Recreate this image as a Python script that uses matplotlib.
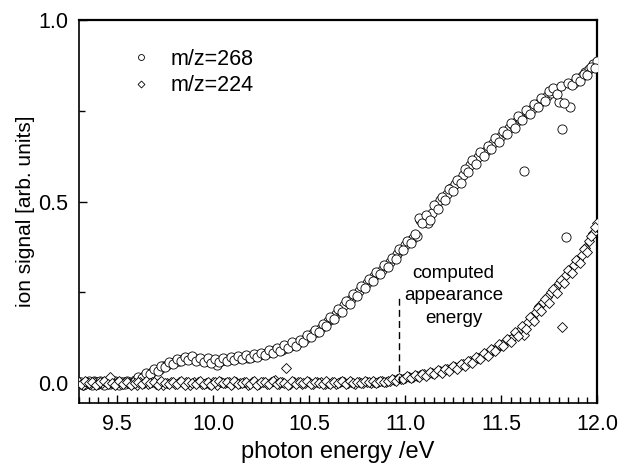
import matplotlib
matplotlib.use("Agg")
import matplotlib.pyplot as plt
from matplotlib.ticker import MultipleLocator, FormatStrFormatter

plt.rcParams['font.family'] = ['Liberation Sans', 'DejaVu Sans']

# photon energy grid, scan 1 (eV)
energy = [
    9.30, 9.32, 9.34, 9.36, 9.38, 9.40, 9.42, 9.44, 9.46, 9.48,
    9.50, 9.52, 9.54, 9.56, 9.58, 9.60, 9.62, 9.64, 9.66, 9.68,
    9.70, 9.72, 9.74, 9.76, 9.78, 9.80, 9.82, 9.84, 9.86, 9.88,
    9.90, 9.92, 9.94, 9.96, 9.98, 10.00, 10.02, 10.04, 10.06, 10.08,
    10.10, 10.12, 10.14, 10.16, 10.18, 10.20, 10.22, 10.24, 10.26, 10.28,
    10.30, 10.32, 10.34, 10.36, 10.38, 10.40, 10.42, 10.44, 10.46, 10.48,
    10.50, 10.52, 10.54, 10.56, 10.58, 10.60, 10.62, 10.64, 10.66, 10.68,
    10.70, 10.72, 10.74, 10.76, 10.78, 10.80, 10.82, 10.84, 10.86, 10.88,
    10.90, 10.92, 10.94, 10.96, 10.98, 11.00, 11.02, 11.04, 11.06, 11.08,
    11.10, 11.12, 11.14, 11.16, 11.18, 11.20, 11.22, 11.24, 11.26, 11.28,
    11.30, 11.32, 11.34, 11.36, 11.38, 11.40, 11.42, 11.44, 11.46, 11.48,
    11.50, 11.52, 11.54, 11.56, 11.58, 11.60, 11.62, 11.64, 11.66, 11.68,
    11.70, 11.72, 11.74, 11.76, 11.78, 11.80, 11.82, 11.84, 11.86, 11.88,
    11.90, 11.92, 11.94, 11.96, 11.98, 12.00,
]

# photon energy grid, scan 2 (eV)
energy2 = [
    9.31, 9.33, 9.35, 9.37, 9.39, 9.41, 9.43, 9.45, 9.47, 9.49,
    9.51, 9.53, 9.55, 9.57, 9.59, 9.61, 9.63, 9.65, 9.67, 9.69,
    9.71, 9.73, 9.75, 9.77, 9.79, 9.81, 9.83, 9.85, 9.87, 9.89,
    9.91, 9.93, 9.95, 9.97, 9.99, 10.01, 10.03, 10.05, 10.07, 10.09,
    10.11, 10.13, 10.15, 10.17, 10.19, 10.21, 10.23, 10.25, 10.27, 10.29,
    10.31, 10.33, 10.35, 10.37, 10.39, 10.41, 10.43, 10.45, 10.47, 10.49,
    10.51, 10.53, 10.55, 10.57, 10.59, 10.61, 10.63, 10.65, 10.67, 10.69,
    10.71, 10.73, 10.75, 10.77, 10.79, 10.81, 10.83, 10.85, 10.87, 10.89,
    10.91, 10.93, 10.95, 10.97, 10.99, 11.01, 11.03, 11.05, 11.07, 11.09,
    11.11, 11.13, 11.15, 11.17, 11.19, 11.21, 11.23, 11.25, 11.27, 11.29,
    11.31, 11.33, 11.35, 11.37, 11.39, 11.41, 11.43, 11.45, 11.47, 11.49,
    11.51, 11.53, 11.55, 11.57, 11.59, 11.61, 11.63, 11.65, 11.67, 11.69,
    11.71, 11.73, 11.75, 11.77, 11.79, 11.81, 11.83, 11.85, 11.87, 11.89,
    11.91, 11.93, 11.95, 11.97, 11.99,
]

# m/z = 268 ion signal, scan 1
signal_268 = [
    0.002, -0.004, 0.003, -0.002, 0.005, -0.003, 0.001, 0.004, -0.003, 0.002,
    -0.001, 0.003, -0.002, 0.004, 0.004, 0.010, 0.014, 0.019, 0.024, 0.030,
    0.036, 0.040, 0.046, 0.050, 0.055, 0.058, 0.062, 0.066, 0.068, 0.070,
    0.067, 0.066, 0.064, 0.062, 0.063, 0.060, 0.050, 0.062, 0.064, 0.066,
    0.067, 0.069, 0.070, 0.072, 0.068, 0.073, 0.076, 0.078, 0.079, 0.084,
    0.086, 0.090, 0.094, 0.092, 0.098, 0.103, 0.106, 0.110, 0.116, 0.122,
    0.130, 0.138, 0.142, 0.152, 0.160, 0.172, 0.178, 0.190, 0.200, 0.214,
    0.224, 0.232, 0.244, 0.254, 0.266, 0.276, 0.284, 0.294, 0.302, 0.312,
    0.322, 0.334, 0.346, 0.356, 0.368, 0.380, 0.392, 0.400, 0.405, 0.448,
    0.455, 0.440, 0.470, 0.492, 0.505, 0.512, 0.522, 0.538, 0.548, 0.560,
    0.574, 0.590, 0.602, 0.612, 0.622, 0.634, 0.640, 0.652, 0.662, 0.672,
    0.680, 0.690, 0.702, 0.712, 0.720, 0.728, 0.583, 0.745, 0.755, 0.765,
    0.772, 0.784, 0.790, 0.800, 0.806, 0.774, 0.700, 0.403, 0.760, 0.826,
    0.836, 0.846, 0.858, 0.866, 0.878, 0.886,
]

# m/z = 268 ion signal, scan 2
signal_268_2 = [
    0.004, -0.002, 0.006, -0.005, 0.002, 0.005, -0.004, 0.003, -0.001, 0.005,
    -0.004, 0.002, 0.006, -0.002, 0.009, 0.016, 0.013, 0.027, 0.024, 0.038,
    0.034, 0.048, 0.045, 0.057, 0.052, 0.066, 0.060, 0.072, 0.064, 0.074,
    0.062, 0.070, 0.058, 0.068, 0.056, 0.066, 0.058, 0.070, 0.060, 0.072,
    0.063, 0.075, 0.066, 0.077, 0.069, 0.080, 0.072, 0.084, 0.077, 0.090,
    0.082, 0.097, 0.088, 0.104, 0.096, 0.112, 0.102, 0.120, 0.112, 0.132,
    0.128, 0.145, 0.140, 0.162, 0.158, 0.182, 0.176, 0.203, 0.197, 0.226,
    0.219, 0.246, 0.240, 0.268, 0.262, 0.288, 0.280, 0.306, 0.300, 0.325,
    0.320, 0.346, 0.342, 0.370, 0.366, 0.392, 0.386, 0.412, 0.456, 0.440,
    0.462, 0.448, 0.490, 0.480, 0.512, 0.505, 0.536, 0.528, 0.560, 0.552,
    0.590, 0.582, 0.614, 0.604, 0.636, 0.626, 0.652, 0.645, 0.674, 0.664,
    0.694, 0.686, 0.716, 0.704, 0.736, 0.724, 0.752, 0.742, 0.770, 0.760,
    0.786, 0.778, 0.806, 0.812, 0.796, 0.818, 0.772, 0.826, 0.822, 0.840,
    0.832, 0.852, 0.848, 0.872, 0.868,
]

# m/z = 224 ion signal, scan 1
signal_224 = [
    0.003, -0.004, 0.002, -0.002, 0.004, -0.003, 0.001, 0.003, 0.016, -0.002,
    0.002, -0.003, 0.004, -0.001, 0.003, -0.004, 0.002, 0.000, -0.003, 0.004,
    -0.002, 0.003, -0.004, 0.001, 0.004, -0.003, 0.002, -0.001, 0.003, -0.004,
    0.002, 0.004, -0.003, 0.001, -0.002, 0.003, -0.004, 0.002, 0.000, 0.003,
    -0.003, 0.004, -0.001, 0.002, -0.004, 0.003, 0.001, -0.002, 0.004, -0.003,
    0.002, 0.008, -0.002, 0.003, 0.041, -0.003, 0.002, 0.004, -0.002, 0.001,
    0.003, -0.003, 0.002, 0.004, -0.002, 0.001, 0.003, -0.003, 0.002, 0.004,
    0.000, 0.003, -0.002, 0.004, 0.001, 0.003, -0.001, 0.004, 0.002, 0.005,
    0.004, 0.006, 0.008, 0.010, 0.012, 0.013, 0.016, 0.018, 0.020, 0.021,
    0.024, 0.026, 0.028, 0.031, 0.033, 0.036, 0.038, 0.042, 0.045, 0.048,
    0.052, 0.056, 0.060, 0.065, 0.070, 0.075, 0.080, 0.086, 0.092, 0.098,
    0.105, 0.112, 0.120, 0.128, 0.136, 0.145, 0.133, 0.168, 0.180, 0.196,
    0.212, 0.224, 0.238, 0.250, 0.262, 0.276, 0.155, 0.298, 0.310, 0.326,
    0.338, 0.354, 0.372, 0.392, 0.414, 0.440,
]

# m/z = 224 ion signal, scan 2
signal_224_2 = [
    -0.003, 0.005, -0.001, 0.004, -0.005, 0.002, 0.006, -0.002, 0.001, -0.004,
    0.005, -0.002, 0.003, -0.005, 0.001, 0.004, -0.003, 0.006, -0.001, 0.002,
    -0.004, 0.005, 0.001, -0.003, 0.004, -0.002, 0.006, -0.004, 0.002, 0.001,
    -0.003, 0.005, -0.002, 0.004, -0.005, 0.002, 0.005, -0.001, 0.003, -0.004,
    0.006, -0.002, 0.001, 0.004, -0.003, 0.005, -0.004, 0.002, 0.003, -0.002,
    0.005, -0.003, 0.004, 0.001, -0.004, 0.006, -0.002, 0.003, -0.001, 0.005,
    -0.003, 0.004, 0.001, -0.002, 0.006, -0.003, 0.004, 0.000, 0.005, -0.002,
    0.006, 0.001, 0.004, -0.001, 0.006, 0.002, 0.005, 0.000, 0.006, 0.003,
    0.007, 0.011, 0.006, 0.014, 0.010, 0.019, 0.013, 0.022, 0.017, 0.026,
    0.020, 0.030, 0.024, 0.035, 0.029, 0.040, 0.034, 0.047, 0.040, 0.054,
    0.047, 0.062, 0.056, 0.072, 0.066, 0.084, 0.076, 0.095, 0.088, 0.108,
    0.101, 0.122, 0.114, 0.140, 0.130, 0.158, 0.150, 0.182, 0.172, 0.206,
    0.198, 0.232, 0.222, 0.258, 0.248, 0.284, 0.276, 0.312, 0.302, 0.340,
    0.330, 0.370, 0.360, 0.404, 0.430,
]

series_labels = ["m/z=268", "m/z=224"]
x_ticks = [9.5, 10.0, 10.5, 11.0, 11.5, 12.0]
y_ticks = [0.0, 0.5, 1.0]
appearance_energy = 10.97
appearance_top = 0.235
annotation_text = "computed\nappearance\nenergy"

assert len(energy) == len(signal_268) == len(signal_224)
assert len(energy2) == len(signal_268_2) == len(signal_224_2)

fig = plt.figure(figsize=(6.2, 4.72), dpi=100)
ax = fig.add_axes([0.1274, 0.146, 0.8355, 0.8114])

ax.plot(energy + energy2, signal_268 + signal_268_2, linestyle='none',
        marker='o', markersize=6.6, markerfacecolor='white',
        markeredgecolor='black', markeredgewidth=0.6,
        label=series_labels[0], zorder=3)
ax.plot(energy + energy2, signal_224 + signal_224_2, linestyle='none',
        marker='D', markersize=5.4, markerfacecolor='white',
        markeredgecolor='black', markeredgewidth=0.6,
        label=series_labels[1], zorder=3)

ax.plot([appearance_energy, appearance_energy], [0.0, appearance_top],
        color='black', linestyle=(0, (5, 3)), linewidth=1.0, zorder=4)
ax.text(11.253, 0.24, annotation_text, ha='center', va='center',
        fontsize=13.5, linespacing=1.42)

ax.set_xlim(9.3, 12.0)
ax.set_ylim(-0.055, 1.0)
ax.set_xticks(x_ticks)
ax.set_yticks(y_ticks)
ax.xaxis.set_major_formatter(FormatStrFormatter('%.1f'))
ax.yaxis.set_major_formatter(FormatStrFormatter('%.1f'))
ax.xaxis.set_minor_locator(MultipleLocator(0.05))
ax.yaxis.set_minor_locator(MultipleLocator(0.25))
ax.tick_params(which='both', direction='in', top=False, right=False,
               labelsize=15.5, pad=8)
ax.tick_params(which='major', length=6, width=1.0)
ax.tick_params(which='minor', length=4, width=1.0)

for side in ['left', 'bottom']:
    ax.spines[side].set_linewidth(1.2)
for side in ['top', 'right']:
    ax.spines[side].set_linewidth(1.6)

ax.set_xlabel("photon energy /eV", fontsize=17, labelpad=4)
ax.set_ylabel("ion signal [arb. units]", fontsize=15, labelpad=2)

leg = ax.legend(loc='upper left', bbox_to_anchor=(0.0994, 0.925),
                frameon=False, fontsize=15.5, handlelength=1.0,
                handletextpad=0.85, labelspacing=0.26, borderpad=0,
                borderaxespad=0, markerscale=0.65)

fig.savefig("out.png", dpi=100)
